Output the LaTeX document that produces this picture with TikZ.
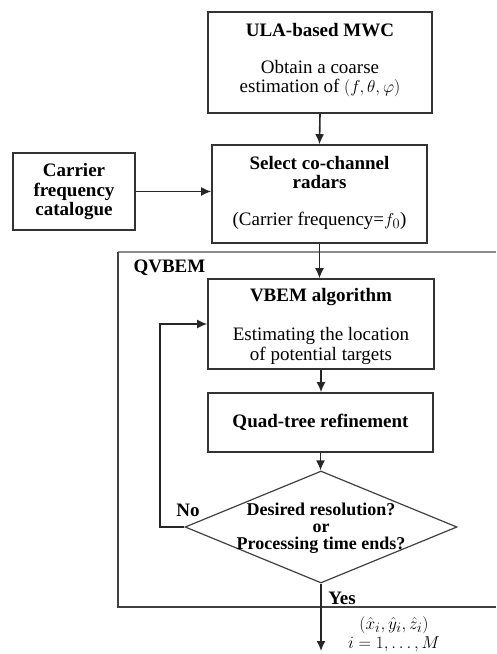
\documentclass[tikz,border=0pt]{standalone}
\usepackage{fontspec}
\setmainfont{Liberation Serif}
\usetikzlibrary{arrows.meta,shapes.geometric,calc}
\begin{document}
\begin{tikzpicture}[x=1pt,y=-1pt,
  every node/.style={font=\fontsize{19}{20}\selectfont},
  box/.style={draw=black!80,line width=1.6pt,align=center,inner sep=0pt},
  arr/.style={draw=black!85,line width=1.6pt,-{Latex[length=10pt,width=9pt]}},
  ln/.style={draw=black!85,line width=1.6pt}]
\useasboundingbox (0,0) rectangle (496,654);
\node[box,minimum width=224pt,minimum height=101pt] (ula) at (320,62.5) {};
\node (ulat) at (320,30) {\textbf{ULA-based MWC}};
\node[align=center,font=\fontsize{19}{19}\selectfont] (ulab) at (320,79) {Obtain a coarse\\estimation of $(f,\theta,\varphi)$};
\node[box,minimum width=215pt,minimum height=98pt] (sel) at (319.5,194) {};
\node[align=center,font=\fontsize{19}{19}\selectfont] (selt) at (319.5,172.5) {\textbf{Select co-channel}\\\textbf{radars}};
\node (selb) at (319.5,221) {(Carrier frequency=$f_0$)};
\node[box,minimum width=122pt,minimum height=77pt,font=\fontsize{19}{19.5}\selectfont\bfseries] (car) at (74,191.5) {Carrier\\frequency\\catalogue};
\draw[draw=black!45,line width=1.1pt] (496,252) coordinate (qtr) -- (118,252);
\draw[draw=black!75,line width=1.4pt] (118,251.5) -- (118,607) -- (496,607) coordinate (qbr);
\node[anchor=west] (qlab) at (130,268) {\textbf{QVBEM}};
\node[box,minimum width=226pt,minimum height=90pt] (vbem) at (321,324) {};
\node (vbemt) at (321,297) {\textbf{VBEM algorithm}};
\node[align=center] (vbemb) at (321,345.5) {Estimating the location\\of potential targets};
\node[box,minimum width=225pt,minimum height=59pt] (quad) at (320.5,422.5) {\textbf{Quad-tree refinement}};
\node[diamond,draw=black!75,line width=1.2pt,minimum width=272pt,minimum height=112pt,inner sep=0pt] (dia) at (321,527) {};
\node[align=center,font=\fontsize{18}{17}\selectfont\bfseries] (diat) at (321,528) {Desired resolution?\\or\\Processing time ends?};
\coordinate (back) at (160,527);
\coordinate (out) at (321,651);
\draw[arr] (ula.south) -- (sel.north);
\draw[arr] (car.east) -- (car.east -| sel.west);
\draw[arr] (sel.south) -- (sel.south |- vbem.north);
\draw[arr] (vbem.south) -- (vbem.south |- quad.north);
\draw[arr] (quad.south) -- (quad.south |- dia.north);
\draw[arr] (dia.west) -- (back) |- (vbem.west);
\draw[arr] (dia.south) -- (out);
\node (no) at (188,510) {\textbf{No}};
\node (yes) at (342,598) {\textbf{Yes}};
\node[inner sep=1pt] (res1) at (394,625) {$(\hat{x}_i,\hat{y}_i,\hat{z}_i)$};
\node[inner sep=1pt] (res2) at (394,644.5) {$i=1,\ldots,M$};
\end{tikzpicture}
\end{document}
